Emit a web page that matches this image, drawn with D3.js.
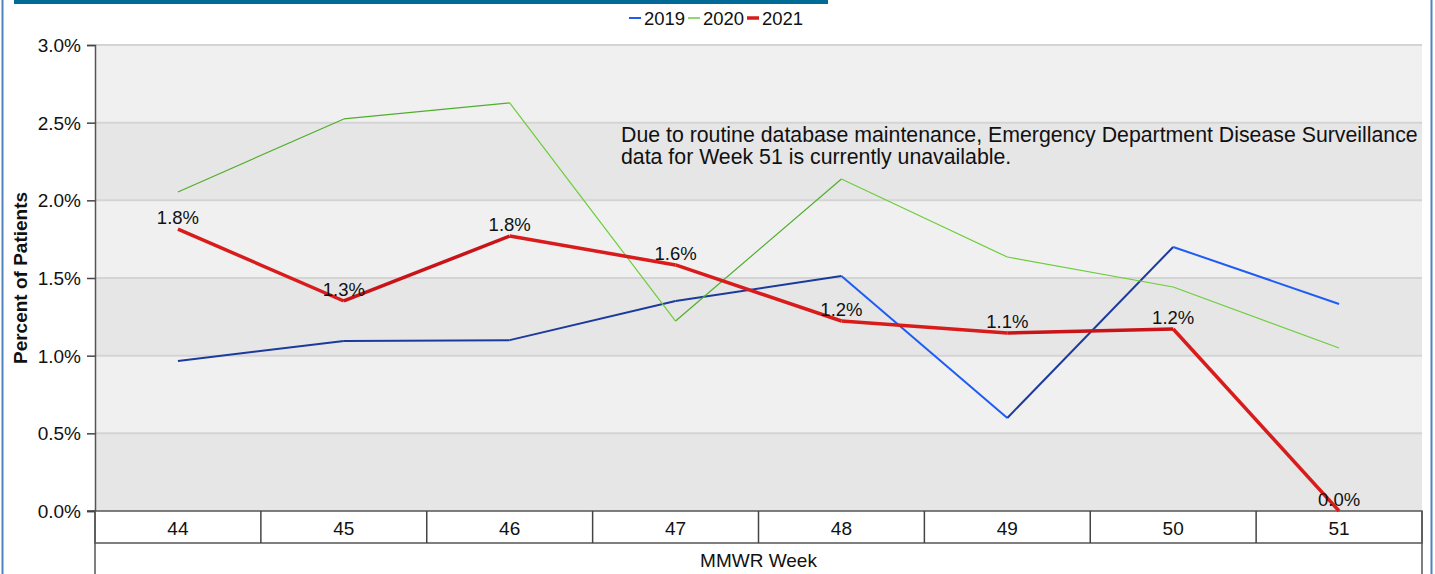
<!DOCTYPE html>
<html><head><meta charset="utf-8">
<script src="https://cdn.jsdelivr.net/npm/d3@7"></script>
<style>body{margin:0;background:#fff;}svg{display:block;font-family:"Liberation Sans",Arial,sans-serif;}</style>
</head><body><svg id="c" width="1435" height="574"></svg>
<script>
const weeks = ["44","45","46","47","48","49","50","51"];
const s2019 = [0.966,1.094,1.100,1.352,1.513,0.599,1.700,1.333];
const s2020 = [2.054,2.524,2.627,1.223,2.137,1.635,1.442,1.049];
const s2021 = [1.815,1.352,1.770,1.584,1.223,1.146,1.172,0.0];
const labels2021 = ["1.8%","1.3%","1.8%","1.6%","1.2%","1.1%","1.2%","0.0%"];
const yTicks = [0,0.5,1,1.5,2,2.5,3];
const seriesNames = ["2019","2020","2021"];

const svg = d3.select("#c");
const L=95,R=1422,T=45,B=511;
const x = d3.scaleBand().domain(weeks).range([L,R]);
const y = d3.scaleLinear().domain([0,3]).range([B,T]);
const FS=19;

// outer borders
svg.append("line").attr("x1",2.5).attr("x2",2.5).attr("y1",0).attr("y2",574).attr("stroke","#4f81bd").attr("stroke-width",2);
svg.append("line").attr("x1",1431.5).attr("x2",1431.5).attr("y1",0).attr("y2",574).attr("stroke","#4f81bd").attr("stroke-width",2);
svg.append("rect").attr("x",14).attr("y",0).attr("width",814).attr("height",4).attr("fill","#006b96");

// background bands
for(let i=0;i<yTicks.length-1;i++){
  svg.append("rect").attr("x",L).attr("width",R-L)
    .attr("y",y(yTicks[i+1])).attr("height",y(yTicks[i])-y(yTicks[i+1]))
    .attr("fill", i%2===0 ? "#e6e6e6" : "#f0f0f0");
}
// gridlines
svg.append("g").selectAll("line").data(yTicks.slice(1)).join("line")
  .attr("x1",L).attr("x2",R).attr("y1",d=>y(d)).attr("y2",d=>y(d))
  .attr("stroke","#d4d4d4").attr("stroke-width",2);

// y axis
const ya = svg.append("g").attr("transform",`translate(${L},0)`)
  .call(d3.axisLeft(y).tickValues(yTicks).tickFormat(d=>d.toFixed(1)+"%").tickSize(8).tickPadding(6));
ya.select(".domain").attr("stroke","#555").attr("stroke-width",1.5);
ya.selectAll(".tick line").attr("stroke","#444").attr("stroke-width",1.5);
ya.selectAll("text").attr("font-size",FS).attr("fill","#111").attr("font-family","Liberation Sans, Arial").attr("dy","0.35em");

svg.append("text").attr("transform",`translate(27,${(T+B)/2}) rotate(-90)`)
  .attr("text-anchor","middle").attr("font-size",FS).attr("font-weight","bold").attr("fill","#111")
  .text("Percent of Patients");

// x axis table
svg.append("rect").attr("x",L).attr("y",B).attr("width",R-L).attr("height",32).attr("fill","#fff").attr("stroke","#555").attr("stroke-width",1.5);
svg.append("line").attr("x1",L).attr("x2",L).attr("y1",B).attr("y2",574).attr("stroke","#555").attr("stroke-width",1.5);
svg.append("line").attr("x1",R).attr("x2",R).attr("y1",B).attr("y2",574).attr("stroke","#555").attr("stroke-width",1.5);
svg.append("line").attr("x1",87).attr("x2",L).attr("y1",B).attr("y2",B).attr("stroke","#444").attr("stroke-width",1.5);
svg.append("g").selectAll("line").data(weeks.slice(1)).join("line")
  .attr("x1",d=>x(d)).attr("x2",d=>x(d)).attr("y1",B).attr("y2",B+32).attr("stroke","#444").attr("stroke-width",1.5);
svg.append("g").selectAll("text").data(weeks).join("text")
  .attr("x",d=>x(d)+x.bandwidth()/2).attr("y",B+24).attr("text-anchor","middle")
  .attr("font-size",FS).attr("fill","#111").text(d=>d);
svg.append("text").attr("x",(L+R)/2).attr("y",567).attr("text-anchor","middle").attr("font-size",FS).attr("fill","#111").text("MMWR Week");

// annotation
svg.append("text").attr("x",621).attr("y",142).attr("font-size",21.3).attr("fill","#111")
  .text("Due to routine database maintenance, Emergency Department Disease Surveillance");
svg.append("text").attr("x",621).attr("y",164).attr("font-size",21.3).attr("fill","#111")
  .text("data for Week 51 is currently unavailable.");

// lines drawn segment by segment (shaded by direction)
const cx = d=>x(d)+x.bandwidth()/2;
const series = [
  {name:"2019",vals:s2019,up:"#1c3a9c",down:"#1f5cf5",w:2},
  {name:"2020",vals:s2020,up:"#4fae2c",down:"#6ccd3c",w:1.2},
  {name:"2021",vals:s2021,up:"#c81418",down:"#d81c1c",w:3.5}
];
const line = d3.line().x(d=>cx(d.w)).y(d=>y(d.v));
series.forEach(s=>{
  const pts = weeks.map((w,i)=>({w,v:s.vals[i]}));
  const g = svg.append("g");
  for(let i=0;i<pts.length-1;i++){
    const seg=[pts[i],pts[i+1]];
    g.append("path").attr("d",line(seg)).attr("fill","none")
      .attr("stroke", pts[i+1].v>pts[i].v ? s.up : s.down)
      .attr("stroke-width",s.w).attr("stroke-linejoin","round").attr("stroke-linecap","butt");
  }
});
// data labels 2021
svg.append("g").selectAll("text").data(weeks).join("text")
  .attr("x",d=>cx(d)).attr("y",(d,i)=>y(s2021[i])-5).attr("text-anchor","middle")
  .attr("font-size",18.5).attr("fill","#111").text((d,i)=>labels2021[i]);

// legend
const lg = svg.append("g");
const legX=[629,688,747];
series.forEach((s,i)=>{
  lg.append("line").attr("x1",legX[i]).attr("x2",legX[i]+12).attr("y1",18).attr("y2",18)
    .attr("stroke",s.down).attr("stroke-width",i===2?3.5:(i===0?2:1.5));
  lg.append("text").attr("x",legX[i]+15).attr("y",25).attr("font-size",18.5).attr("fill","#111").text(seriesNames[i]);
});
</script></body></html>
